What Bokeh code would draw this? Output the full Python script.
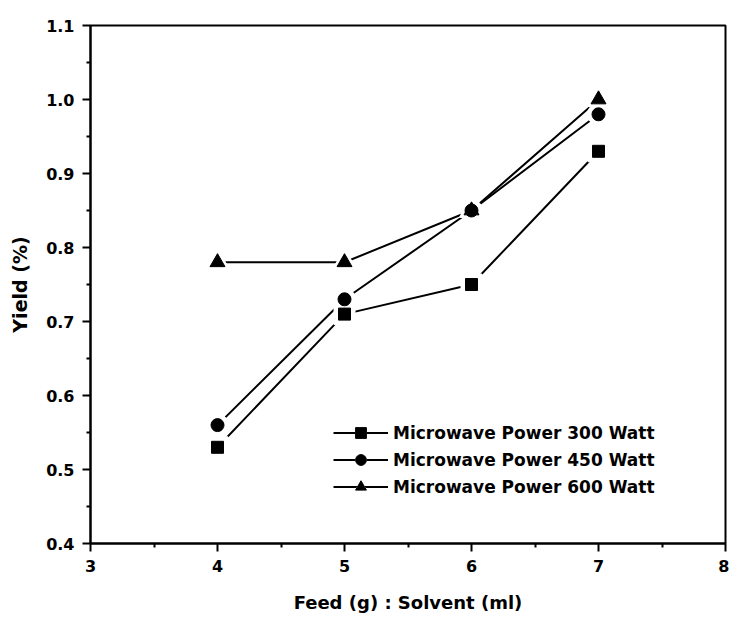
from bokeh.plotting import figure
from bokeh.models import Range1d, FixedTicker, PrintfTickFormatter, Legend, LegendItem
from bokeh.embed import file_html
from bokeh.resources import INLINE

feed_ratio = [4, 5, 6, 7]
yield_300 = [0.53, 0.71, 0.75, 0.93]
yield_450 = [0.56, 0.73, 0.85, 0.98]
yield_600 = [0.78, 0.78, 0.85, 1.00]
series_names = ["Microwave Power 300 Watt", "Microwave Power 450 Watt", "Microwave Power 600 Watt"]
x_ticks = [3, 4, 5, 6, 7, 8]
y_ticks = [0.4, 0.5, 0.6, 0.7, 0.8, 0.9, 1.0, 1.1]

FONT = "DejaVu Sans"

p = figure(width=729, height=618, output_backend="svg", toolbar_location=None,
           x_range=Range1d(3, 8), y_range=Range1d(0.4, 1.1),
           min_border_left=90, min_border_right=4, min_border_top=25, min_border_bottom=75)
p.grid.visible = False
p.outline_line_color = "black"
p.outline_line_width = 2
p.background_fill_color = "white"
p.border_fill_color = "white"

p.xaxis.ticker = FixedTicker(ticks=x_ticks, minor_ticks=[3.5, 4.5, 5.5, 6.5, 7.5])
p.yaxis.ticker = FixedTicker(ticks=y_ticks, minor_ticks=[0.45, 0.55, 0.65, 0.75, 0.85, 0.95, 1.05])
p.xaxis.formatter = PrintfTickFormatter(format="%d")
p.yaxis.formatter = PrintfTickFormatter(format="%.1f")

for ax in (p.xaxis[0], p.yaxis[0]):
    ax.axis_line_width = 2
    ax.axis_line_color = "black"
    ax.major_tick_line_width = 2
    ax.minor_tick_line_width = 2
    ax.major_tick_out = 8
    ax.major_tick_in = 0
    ax.minor_tick_out = 4
    ax.minor_tick_in = 0
    ax.major_label_text_font = FONT
    ax.major_label_text_font_style = "bold"
    ax.major_label_text_font_size = "16px"
    ax.major_label_text_color = "black"
    ax.axis_label_text_font = FONT
    ax.axis_label_text_font_style = "bold"
    ax.axis_label_text_color = "black"
    ax.major_label_standoff = 8

p.xaxis.axis_label = "Feed (g) : Solvent (ml)"
p.yaxis.axis_label = "Yield (%)"
p.xaxis.axis_label_text_font_size = "18px"
p.yaxis.axis_label_text_font_size = "19px"
p.xaxis.axis_label_standoff = 17
p.yaxis.axis_label_standoff = 12

series = [(yield_300, "square", 12), (yield_450, "circle", 13), (yield_600, "triangle", 15)]
lines = []
for ys, _, _ in series:
    lines.append(p.line(feed_ratio, ys, line_color="black", line_width=2))
halos = []
for ys, m, s in series:
    halos.append(p.scatter(feed_ratio, ys, marker=m, size=s + 9, fill_color="white", line_color="white"))
marks = []
for ys, m, s in series:
    marks.append(p.scatter(feed_ratio, ys, marker=m, size=s, fill_color="black", line_color="black"))

items = [LegendItem(label=n, renderers=[l, h, mk]) for n, l, h, mk in zip(series_names, lines, halos, marks)]
legend = Legend(items=items, location=(243, 43), padding=0, margin=0, spacing=0,
                glyph_width=55, glyph_height=27, label_height=27, label_standoff=5,
                label_text_font=FONT, label_text_font_style="bold", label_text_font_size="17px",
                label_text_color="black",
                border_line_color=None, background_fill_alpha=0)
p.add_layout(legend)

open("out.html", "w").write(file_html(p, INLINE))
